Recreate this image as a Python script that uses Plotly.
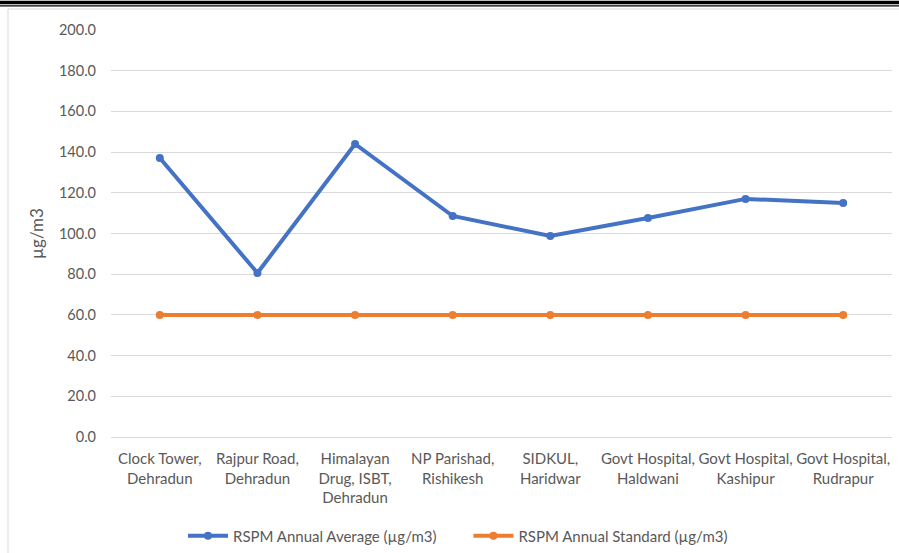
import plotly.graph_objects as go

# Monitoring stations (x categories)
stations = [
    "Clock Tower,<br>Dehradun",
    "Rajpur Road,<br>Dehradun",
    "Himalayan<br>Drug, ISBT,<br>Dehradun",
    "NP Parishad,<br>Rishikesh",
    "SIDKUL,<br>Haridwar",
    "Govt Hospital,<br>Haldwani",
    "Govt Hospital,<br>Kashipur",
    "Govt Hospital,<br>Rudrapur",
]

# RSPM concentrations (µg/m3)
rspm_average = [137.1, 80.6, 144.0, 108.6, 98.8, 107.6, 117.0, 115.0]
rspm_standard = [60, 60, 60, 60, 60, 60, 60, 60]

y_ticks = [0, 20, 40, 60, 80, 100, 120, 140, 160, 180, 200]

W, H = 899, 553
L, R, T, B = 111, 7, 30, 116
PW, PH = W - L - R, H - T - B


def px(xp):
    return (xp - L) / PW


def py(yp):
    return (H - B - yp) / PH


FONT = "Lato, 'Open Sans', sans-serif"
GREY_TXT = "#595959"
NBSP = "\u00a0"

fig = go.Figure()
fig.add_trace(go.Scatter(
    x=stations, y=rspm_average, mode="lines+markers",
    name="RSPM Annual Average (µg/m3)" + NBSP * 7,
    line=dict(color="#4472C4", width=4),
    marker=dict(color="#4472C4", size=8),
))
fig.add_trace(go.Scatter(
    x=stations, y=rspm_standard, mode="lines+markers",
    name="RSPM Annual Standard (µg/m3)",
    line=dict(color="#ED7D31", width=4),
    marker=dict(color="#ED7D31", size=8),
))

shapes = [
    # page rule: thick and thin black lines
    dict(type="line", xref="paper", yref="paper", x0=px(0), x1=px(W), y0=py(2.5), y1=py(2.5),
         line=dict(color="black", width=3.5)),
    dict(type="line", xref="paper", yref="paper", x0=px(0), x1=px(W), y0=py(5.8), y1=py(5.8),
         line=dict(color="black", width=1.3)),
    # chart frame
    dict(type="line", xref="paper", yref="paper", x0=px(8), x1=px(W), y0=py(9), y1=py(9),
         line=dict(color="#D9D9D9", width=1)),
    dict(type="line", xref="paper", yref="paper", x0=px(8), x1=px(8), y0=py(9), y1=py(H),
         line=dict(color="#D9D9D9", width=1)),
]

fig.update_layout(
    width=W, height=H,
    margin=dict(l=L, r=R, t=T, b=B, autoexpand=False),
    paper_bgcolor="white", plot_bgcolor="white",
    font=dict(family=FONT, size=15, color=GREY_TXT),
    shapes=shapes,
    showlegend=True,
    legend=dict(orientation="h", x=px(458), xanchor="center", y=py(536), yanchor="middle",
                font=dict(size=15, color=GREY_TXT), itemwidth=40, traceorder="normal"),
    xaxis=dict(
        type="category", range=[-0.5, 7.5], automargin=False,
        showgrid=False, showline=True, linecolor="#D9D9D9", linewidth=1,
        ticks="", tickangle=0, tickfont=dict(size=15, color=GREY_TXT), ticklabelstandoff=8,
        fixedrange=True,
    ),
    yaxis=dict(
        range=[0, 200], tickvals=y_ticks, automargin=False,
        ticktext=[f"{v:.1f}" for v in y_ticks],
        showgrid=True, gridcolor="#D9D9D9", gridwidth=1,
        zeroline=False, showline=False, ticks="",
        tickfont=dict(size=14.5, color=GREY_TXT), ticklabelstandoff=14,
        title=dict(text="µg/m3", font=dict(size=17, color=GREY_TXT), standoff=10),
    ),
)

fig.write_html("out.html")
